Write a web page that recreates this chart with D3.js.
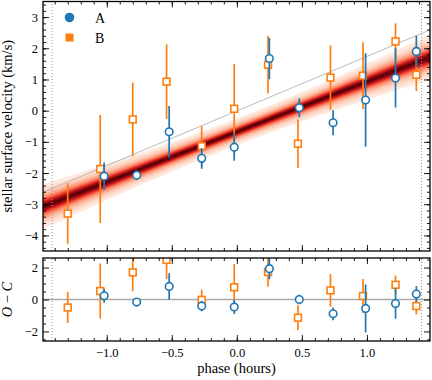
<!DOCTYPE html>
<html>
<head>
<meta charset="utf-8">
<script src="https://cdn.jsdelivr.net/npm/d3@7"></script>
<style>
  body { margin: 0; background: #fff; }
  text { font-family: "Liberation Serif", "DejaVu Serif", serif; fill: #000; }
</style>
</head>
<body>
<svg id="fig" width="432" height="380"></svg>
<script>
// series A (blue circles)
var phaseA = [-1.02, -0.77, -0.52, -0.27, -0.02, 0.25, 0.48, 0.74, 0.99, 1.22, 1.38];
var velA   = [-2.10, -2.07, -0.68, -1.53, -1.17, 1.67, 0.09, -0.39, 0.34, 1.05, 1.90];
var errA   = [0.44, 0.15, 0.83, 0.33, 0.44, 0.66, 0.30, 0.40, 1.50, 0.95, 0.50];
var ocA    = [0.23, -0.16, 0.82, -0.41, -0.47, 1.93, 0.00, -0.90, -0.56, -0.25, 0.34];

// series B (orange squares)
var phaseB = [-1.30, -1.05, -0.80, -0.54, -0.27, -0.02, 0.24, 0.47, 0.72, 0.97, 1.22, 1.38];
var velB   = [-3.30, -1.87, -0.28, 0.93, -1.14, 0.06, 1.47, -1.06, 1.06, 1.12, 2.22, 1.15];
var errB   = [0.97, 1.73, 1.18, 1.20, 0.64, 1.44, 0.92, 0.78, 1.03, 1.07, 0.58, 0.52];
var ocB    = [-0.50, 0.53, 1.70, 2.48, -0.02, 0.77, 1.72, -1.14, 0.57, 0.22, 0.92, -0.41];

// fitted model (red band) and reference line (grey)
var fitSlope = 1.61, fitIntercept = -0.68;
var fitSigma0 = 0.1, fitSigmaSlope = 0.09;
var refSlope = 1.75, refIntercept = -0.01;
var windowEdges = [-1.42, 1.42];

var xTicks = [-1.0, -0.5, 0.0, 0.5, 1.0];
var yTopTicks = [-4, -3, -2, -1, 0, 1, 2, 3];
var yBotTicks = [-2, 0, 2];

var blue = "#1f77b4", orange = "#ff7f0e";

var svg = d3.select("#fig");

var left = 43, right = 430;
var x = d3.scaleLinear().domain([-1.49, 1.485]).range([left, right]);
var yTop = d3.scaleLinear().domain([-4.5, 3.5]).range([251, 1.5]);
var yBot = d3.scaleLinear().domain([-2.6, 2.6]).range([341, 258]);

var defs = svg.append("defs");
function clip(id, y) {
    defs.append("clipPath").attr("id", id).append("rect")
        .attr("x", left).attr("y", y.range()[1])
        .attr("width", right - left).attr("height", y.range()[0] - y.range()[1]);
}
clip("clipTop", yTop);
clip("clipBot", yBot);

var gTop = svg.append("g").attr("clip-path", "url(#clipTop)");
var gBot = svg.append("g").attr("clip-path", "url(#clipBot)");

// posterior band, outer layers first
var bandLayers = [
    [4.3, 0.07], [3.6, 0.13], [3.0, 0.2], [2.4, 0.3], [1.9, 0.42],
    [1.5, 0.56], [1.15, 0.7], [0.85, 0.83], [0.55, 0.95]
];
var xs = d3.range(-1.5, 1.5001, 0.05);
bandLayers.forEach(function(l) {
    var area = d3.area()
        .x(function(d) { return x(d); })
        .y0(function(d) { return yTop(fitIntercept + fitSlope * d - l[0] * Math.hypot(fitSigma0, fitSigmaSlope * d)); })
        .y1(function(d) { return yTop(fitIntercept + fitSlope * d + l[0] * Math.hypot(fitSigma0, fitSigmaSlope * d)); });
    gTop.append("path").datum(xs).attr("d", area)
        .attr("fill", d3.interpolateReds(l[1]));
});
gTop.append("line")
    .attr("x1", x(-1.5)).attr("x2", x(1.5))
    .attr("y1", yTop(fitIntercept + fitSlope * -1.5))
    .attr("y2", yTop(fitIntercept + fitSlope * 1.5))
    .attr("stroke", "#5c0008").attr("stroke-width", 2);

// grey reference line
gTop.append("line")
    .attr("x1", x(-1.5)).attr("x2", x(1.5))
    .attr("y1", yTop(refIntercept + refSlope * -1.5))
    .attr("y2", yTop(refIntercept + refSlope * 1.5))
    .attr("stroke", "#aaa").attr("stroke-width", 0.8);

// zero line in residuals
gBot.append("line")
    .attr("x1", left).attr("x2", right)
    .attr("y1", yBot(0)).attr("y2", yBot(0))
    .attr("stroke", "#aaa").attr("stroke-width", 1.5);

// window edges (dotted)
[[gTop, yTop], [gBot, yBot]].forEach(function(p) {
    windowEdges.forEach(function(e) {
        p[0].append("line")
            .attr("x1", x(e)).attr("x2", x(e))
            .attr("y1", p[1].range()[0]).attr("y2", p[1].range()[1])
            .attr("stroke", "#999").attr("stroke-width", 1)
            .attr("stroke-dasharray", "1,2");
    });
});

function drawSeries(g, y, px, py, pe, color, shape) {
    var idx = d3.range(px.length);
    g.append("g").selectAll("line").data(idx).join("line")
        .attr("x1", function(i) { return x(px[i]); })
        .attr("x2", function(i) { return x(px[i]); })
        .attr("y1", function(i) { return y(py[i] - pe[i]); })
        .attr("y2", function(i) { return y(py[i] + pe[i]); })
        .attr("stroke", color).attr("stroke-width", 1.7);
    if (shape == "circle") {
        g.append("g").selectAll("circle").data(idx).join("circle")
            .attr("cx", function(i) { return x(px[i]); })
            .attr("cy", function(i) { return y(py[i]); })
            .attr("r", 3.8)
            .attr("fill", "#fff").attr("stroke", color).attr("stroke-width", 1.6);
    } else {
        g.append("g").selectAll("rect").data(idx).join("rect")
            .attr("x", function(i) { return x(px[i]) - 3.4; })
            .attr("y", function(i) { return y(py[i]) - 3.4; })
            .attr("width", 6.8).attr("height", 6.8)
            .attr("fill", "#fff").attr("stroke", color).attr("stroke-width", 1.6);
    }
}

drawSeries(gTop, yTop, phaseB, velB, errB, orange, "square");
drawSeries(gTop, yTop, phaseA, velA, errA, blue, "circle");
drawSeries(gBot, yBot, phaseB, ocB, errB, orange, "square");
drawSeries(gBot, yBot, phaseA, ocA, errA, blue, "circle");

// axes with inward ticks
var fmtX = d3.format(".1f");
var xMinor = d3.range(-1.4, 1.41, 0.1).map(function(d) { return Math.round(d * 10) / 10; });

function xAxes(y, labels) {
    var yb = y.range()[0], yt = y.range()[1];
    var b = svg.append("g").attr("transform", "translate(0," + yb + ")")
        .call(d3.axisBottom(x).tickValues(xMinor).tickSize(-3).tickFormat(""));
    var bm = svg.append("g").attr("transform", "translate(0," + yb + ")")
        .call(d3.axisBottom(x).tickValues(xTicks).tickSizeInner(-6).tickSizeOuter(0)
            .tickPadding(7).tickFormat(labels ? fmtX : ""));
    var t = svg.append("g").attr("transform", "translate(0," + yt + ")")
        .call(d3.axisTop(x).tickValues(xMinor).tickSize(-3).tickFormat(""));
    var tm = svg.append("g").attr("transform", "translate(0," + yt + ")")
        .call(d3.axisTop(x).tickValues(xTicks).tickSize(-6).tickFormat(""));
    [b, bm, t, tm].forEach(function(a) { a.select(".domain").remove(); });
    bm.selectAll("text").style("font-size", "12.5px");
}

function yAxes(y, major, minor) {
    var a1 = svg.append("g").attr("transform", "translate(" + left + ",0)")
        .call(d3.axisLeft(y).tickValues(minor).tickSize(-3).tickFormat(""));
    var a2 = svg.append("g").attr("transform", "translate(" + left + ",0)")
        .call(d3.axisLeft(y).tickValues(major).tickSizeInner(-6).tickSizeOuter(0)
            .tickPadding(5).tickFormat(d3.format("d")));
    var a3 = svg.append("g").attr("transform", "translate(" + right + ",0)")
        .call(d3.axisRight(y).tickValues(minor).tickSize(-3).tickFormat(""));
    var a4 = svg.append("g").attr("transform", "translate(" + right + ",0)")
        .call(d3.axisRight(y).tickValues(major).tickSize(-6).tickFormat(""));
    [a1, a2, a3, a4].forEach(function(a) { a.select(".domain").remove(); });
    a2.selectAll("text").style("font-size", "12.5px");
}

xAxes(yTop, false);
xAxes(yBot, true);
yAxes(yTop, yTopTicks, d3.range(-4.4, 3.41, 0.2).map(function(d) { return Math.round(d * 10) / 10; }));
yAxes(yBot, yBotTicks, [-2.5, -1.5, -1, -0.5, 0.5, 1, 1.5, 2.5]);

svg.selectAll(".tick line").attr("stroke", "#000").attr("stroke-width", 0.9);

// frames
[yTop, yBot].forEach(function(y) {
    svg.append("rect")
        .attr("x", left).attr("y", y.range()[1])
        .attr("width", right - left).attr("height", y.range()[0] - y.range()[1])
        .attr("fill", "none").attr("stroke", "#000").attr("stroke-width", 1.3);
});

// legend
var leg = svg.append("g");
leg.append("circle").attr("cx", 69.5).attr("cy", 17.5).attr("r", 4.8).attr("fill", blue);
leg.append("rect").attr("x", 65.5).attr("y", 33.5).attr("width", 8).attr("height", 8).attr("fill", orange);
leg.append("text").attr("x", 95).attr("y", 22.5).style("font-size", "14px").text("A");
leg.append("text").attr("x", 95).attr("y", 42.5).style("font-size", "14px").text("B");

// axis labels
svg.append("text")
    .attr("transform", "translate(12," + ((yTop.range()[0] + yTop.range()[1]) / 2) + ") rotate(-90)")
    .attr("text-anchor", "middle").style("font-size", "14.5px")
    .text("stellar surface velocity (km/s)");

var oc = svg.append("text")
    .attr("transform", "translate(12," + ((yBot.range()[0] + yBot.range()[1]) / 2) + ") rotate(-90)")
    .attr("text-anchor", "middle").style("font-size", "14.5px");
oc.append("tspan").style("font-style", "italic").text("O");
oc.append("tspan").text(" \u2212 ");
oc.append("tspan").style("font-style", "italic").text("C");

svg.append("text")
    .attr("x", (left + right) / 2).attr("y", 373)
    .attr("text-anchor", "middle").style("font-size", "14.5px")
    .text("phase (hours)");
</script>
</body>
</html>
